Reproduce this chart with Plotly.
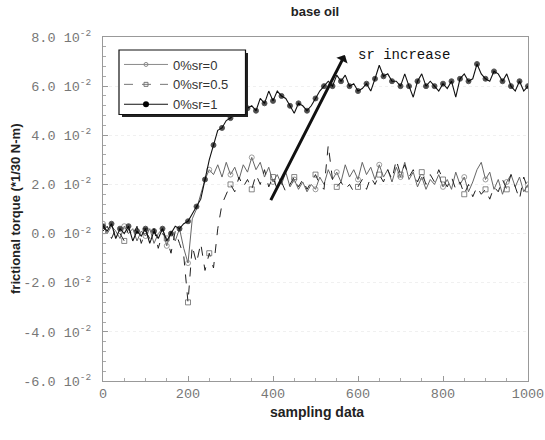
import plotly.graph_objects as go

sample_index = list(range(0, 1001, 10))

sr0 = [0.4, 0.0, 0.3, 0.1, -0.2, 0.3, 0.0, 0.2, -0.3, 0.1,
       -0.1, 0.2, -0.4, 0.0, 0.2, -0.5, 0.1, -0.3, 0.2, -0.6,
       -1.2, 0.6, 1.0, 1.6, 2.2, 2.6, 2.4, 2.8, 2.3, 2.9,
       2.4, 2.7, 2.2, 2.8, 2.5, 3.1, 2.6, 2.9, 2.3, 2.7,
       2.1, 2.4, 2.0, 2.5, 1.9, 2.2, 1.8, 2.1, 1.7, 2.0,
       1.8, 2.3, 2.0, 2.6, 2.2, 2.5, 2.1, 2.8, 2.3, 2.6,
       2.2, 2.9, 2.4, 2.7, 2.2, 2.8, 2.3, 2.6, 2.1, 2.7,
       2.3, 2.9, 2.2, 2.5, 1.9, 2.3, 1.8, 2.2, 2.0, 2.4,
       1.9, 2.2, 1.8, 2.5, 2.0, 2.3, 1.7, 2.1, 2.6, 2.9,
       2.2, 2.5, 1.8, 2.2, 1.6, 2.1, 2.4, 1.9, 2.3, 1.7, 2.0]

sr05 = [0.1, 0.3, -0.2, 0.2, 0.0, -0.3, 0.2, -0.1, 0.3, -0.4,
        0.1, -0.2, 0.2, -0.6, 0.0, -0.2, -0.8, 0.1, -0.4, -0.9,
        -2.8, -0.5, -1.2, -0.4, -1.5, -0.8, -1.4, 0.2, 1.2, 1.6,
        2.0, 1.7, 2.3, 1.9, 2.2, 1.8, 2.4, 2.0, 2.6, 1.9,
        2.3, 1.8, 2.1, 1.7, 2.0, 2.3, 1.9, 2.2, 1.8, 2.1,
        2.4, 2.0, 1.8, 3.6, 2.2, 1.9, 2.1, 1.8, 2.0, 1.7,
        1.9, 2.2, 1.8, 2.3, 2.0, 2.4, 2.1, 2.6, 2.2, 3.0,
        2.4, 2.8, 2.3, 2.6, 2.1, 2.5, 2.0, 2.4, 2.1, 2.6,
        2.2, 1.9, 2.3, 1.8, 2.1, 1.6, 2.0, 1.5, 1.9, 1.6,
        1.8, 1.4, 1.9, 1.7, 2.2, 1.8, 2.4, 1.9, 1.4, 2.3, 1.8]

sr1 = [0.3, 0.1, 0.4, -0.2, 0.2, 0.0, 0.3, -0.3, 0.1, -0.1,
       0.2, -0.4, 0.1, -0.2, 0.2, -0.3, 0.0, 0.3, 0.2, 0.4,
       0.5, 0.8, 1.1, 1.4, 2.2, 3.0, 3.6, 4.2, 4.3, 4.6,
       4.7, 4.9, 5.0, 4.8, 5.1, 5.2, 5.0, 5.5, 5.3, 5.8,
       5.4, 5.8, 5.6, 5.5, 5.2, 4.9, 5.3, 5.2, 5.0, 5.2,
       5.5, 5.8, 6.0, 6.2, 6.0, 6.45, 6.2, 6.45, 6.0, 6.1,
       5.8, 5.9, 6.1, 5.8, 6.3, 6.85, 6.4, 6.5, 6.2, 6.2,
       6.0, 6.5, 6.0, 5.55, 6.2, 6.5, 6.0, 6.2, 6.0, 5.8,
       6.1, 5.9, 6.2, 5.55, 6.3, 6.5, 6.2, 6.3, 6.9, 6.5,
       6.3, 6.2, 6.6, 6.5, 6.2, 6.5, 6.0, 5.8, 6.2, 5.8, 6.0]

legend_names = ["0%sr=0", "0%sr=0.5", "0%sr=1"]
y_tick_values = [-6, -4, -2, 0, 2, 4, 6, 8]
y_tick_text = ["-6.0 10<sup>-2</sup>", "-4.0 10<sup>-2</sup>", "-2.0 10<sup>-2</sup>",
               "0.0 10<sup>-2</sup>", "2.0 10<sup>-2</sup>", "4.0 10<sup>-2</sup>",
               "6.0 10<sup>-2</sup>", "8.0 10<sup>-2</sup>"]
x_tick_values = [0, 200, 400, 600, 800, 1000]

n = len(sample_index)
size_every5 = [5 if i % 5 == 0 else 0 for i in range(n)]
size_every2 = [5 if i % 2 == 0 else 0 for i in range(n)]

# plot area in window pixels: x 103..528, y 37..381
PL, PR, PT, PB = 103, 528, 37, 381
def px(X):
    return (X - PL) / (PR - PL)
def py(Y):
    return (PB - Y) / (PB - PT)

fig = go.Figure()
fig.add_trace(go.Scatter(x=sample_index, y=sr0, mode="lines+markers", showlegend=False,
                         line=dict(color="#666", width=1),
                         marker=dict(symbol="circle-open", size=size_every5, color="#777")))
fig.add_trace(go.Scatter(x=sample_index, y=sr05, mode="lines+markers", showlegend=False,
                         line=dict(color="#222", width=1, dash="dash"),
                         marker=dict(symbol="square-open", size=size_every5, color="#555")))
fig.add_trace(go.Scatter(x=sample_index, y=sr1, mode="lines+markers", showlegend=False,
                         line=dict(color="#111", width=1.1),
                         marker=dict(symbol="circle", size=size_every2, color="#000")))

# legend-only entries
fig.add_trace(go.Scatter(x=[None], y=[None], mode="lines+markers", name=legend_names[0],
                         line=dict(color="#8a8a8a", width=1),
                         marker=dict(symbol="circle-open", size=4, color="#8a8a8a")))
fig.add_trace(go.Scatter(x=[None], y=[None], mode="lines+markers", name=legend_names[1],
                         line=dict(color="#777", width=1, dash="dash"),
                         marker=dict(symbol="square-open", size=4, color="#777")))
fig.add_trace(go.Scatter(x=[None], y=[None], mode="lines+markers", name=legend_names[2],
                         line=dict(color="#111", width=1),
                         marker=dict(symbol="circle", size=6, color="#000")))

fig.add_annotation(x=569, y=7.27, ax=393, ay=1.3, xref="x", yref="y", axref="x", ayref="y",
                   text="", showarrow=True, arrowhead=1, arrowsize=0.7, arrowwidth=3,
                   arrowcolor="#111")
fig.add_annotation(x=595, y=7.25, xref="x", yref="y", text="sr increase",
                   showarrow=False, xanchor="left", yanchor="middle",
                   font=dict(family="Liberation Mono", size=14, color="#111"))

# axis titles as annotations for exact placement
fig.add_annotation(x=px(15), y=py(209), xref="paper", yref="paper",
                   text="<b>frictional torque (*1/30 N-m)</b>", textangle=-90,
                   showarrow=False, xanchor="center", yanchor="middle",
                   font=dict(family="Liberation Sans", size=13, color="#222"))
fig.add_annotation(x=px(317), y=py(412), xref="paper", yref="paper",
                   text="<b>sampling data</b>",
                   showarrow=False, xanchor="center", yanchor="middle",
                   font=dict(family="Liberation Sans", size=14, color="#222"))

# legend box with shadow (drawn as shapes, legend itself transparent)
fig.add_shape(type="rect", xref="paper", yref="paper", layer="above",
              x0=px(122), x1=px(248), y0=py(53), y1=py(117),
              line=dict(width=0), fillcolor="#222")
fig.add_shape(type="rect", xref="paper", yref="paper", layer="above",
              x0=px(119), x1=px(245.5), y0=py(50), y1=py(114.5),
              line=dict(color="#111", width=1.2), fillcolor="white")

axis_common = dict(showline=True, linecolor="#999", linewidth=1, mirror=True,
                   ticks="inside", ticklen=5, tickcolor="#999", zeroline=False,
                   automargin=False,
                   tickfont=dict(family="Liberation Mono", size=13.5, color="#777"))

fig.update_xaxes(range=[0, 1000], tickvals=x_tick_values, showgrid=False,
                 minor=dict(dtick=50, ticks="inside", ticklen=3, tickcolor="#aaa"),
                 **axis_common)
fig.update_yaxes(range=[-6, 8], tickvals=y_tick_values,
                 ticktext=[t + "\u00a0" for t in y_tick_text],
                 showgrid=True, gridcolor="#f0f0f0", griddash="dot",
                 minor=dict(dtick=0.4, ticks="inside", ticklen=3, tickcolor="#aaa"),
                 **axis_common)

fig.update_layout(
    width=545, height=440,
    margin=dict(l=PL, r=545 - PR, t=PT, b=440 - PB, autoexpand=False),
    paper_bgcolor="white", plot_bgcolor="white",
    title=dict(text="<b>base oil</b>", x=315 / 545, xanchor="center",
               y=1 - 11 / 440, yanchor="middle",
               font=dict(family="Liberation Sans", size=13, color="#222")),
    legend=dict(x=px(119), y=py(49.5), xanchor="left", yanchor="top",
                borderwidth=0, bgcolor="rgba(0,0,0,0)",
                font=dict(family="Liberation Sans", size=13, color="#333"),
                itemwidth=44, tracegroupgap=0),
)

fig.write_html("out.html", config={"displayModeBar": False},
               post_script="document.body.style.margin='0';")
